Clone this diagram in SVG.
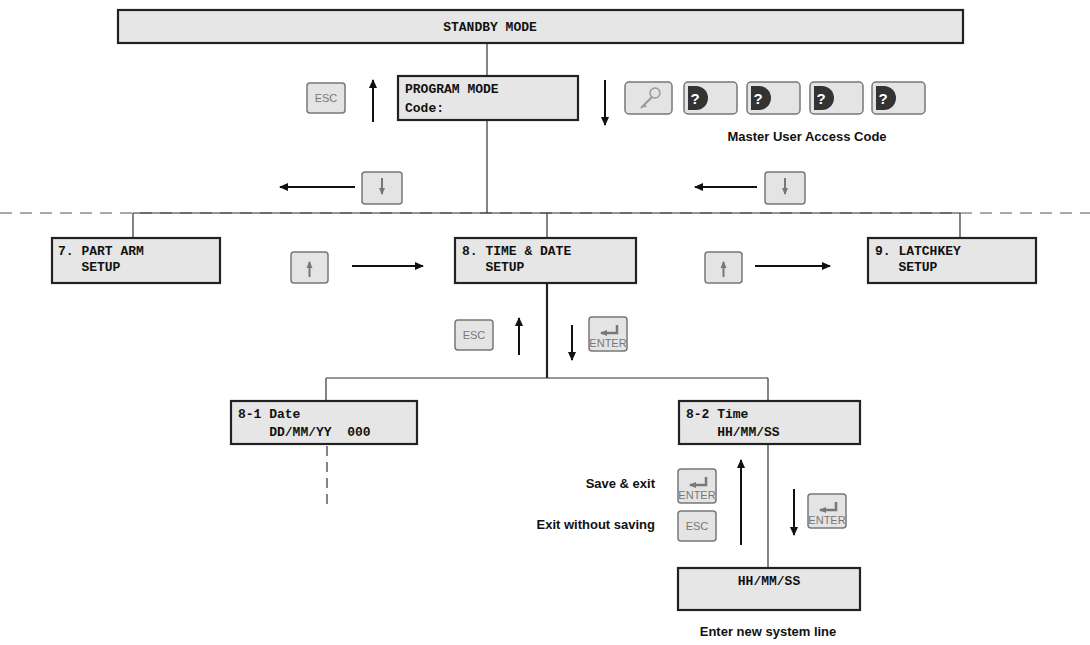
<svg xmlns="http://www.w3.org/2000/svg" width="1090" height="645" viewBox="0 0 1090 645">
<style>
.box{fill:#e6e6e6;stroke:#222;stroke-width:2.2}
.key{fill:#e4e4e4;stroke:#777;stroke-width:1.5}
.mono{font-family:"Liberation Mono",monospace;font-weight:bold;font-size:13px;fill:#111;white-space:pre}
.lbl{font-family:"Liberation Sans",Arial,sans-serif;font-weight:bold;font-size:13px;fill:#111}
.kt{font-family:"Liberation Sans",Arial,sans-serif;font-size:11px;fill:#777}
.ln{stroke:#333;stroke-width:1.2;fill:none}
.ar{stroke:#111;stroke-width:2;fill:none}
.q{font-family:"Liberation Sans",Arial,sans-serif;font-weight:bold;font-size:15px;fill:#fff}
</style>
<defs>
<marker id="ah" markerWidth="10" markerHeight="10" refX="8" refY="5" orient="auto" markerUnits="userSpaceOnUse"><path d="M0,1 L9,5 L0,9 z" fill="#111"/></marker>
<marker id="ahg" markerWidth="8" markerHeight="8" refX="6" refY="4" orient="auto" markerUnits="userSpaceOnUse"><path d="M0,1 L7,4 L0,7 z" fill="#777"/></marker>
<g id="esckey"><rect class="key" x="0" y="0" width="38" height="30" rx="3"/><text class="kt" x="19" y="19" text-anchor="middle">ESC</text></g>
<g id="enterkey"><rect class="key" x="0" y="0" width="38" height="34" rx="3"/><path d="M28,8 V16 H12" stroke="#777" stroke-width="2.5" fill="none" marker-end="url(#ahg)"/><text class="kt" x="19" y="30" text-anchor="middle">ENTER</text></g>
<g id="downkey"><rect class="key" x="0" y="0" width="40" height="32" rx="3"/><path d="M20,6 V22" stroke="#777" stroke-width="2" marker-end="url(#ahg)"/></g>
<g id="upkey"><rect class="key" x="0" y="0" width="37" height="31" rx="3"/><path d="M18.5,25 V10" stroke="#777" stroke-width="2" marker-end="url(#ahg)"/></g>
<g id="qkey"><rect class="key" x="0" y="0" width="53" height="32" rx="4" stroke="#555"/><path d="M4,4 h8 a12,12 0 0 1 0,24 h-8 z" fill="#333"/><text class="q" x="11" y="22" text-anchor="middle">?</text></g>
</defs>
<rect width="1090" height="645" fill="#fff"/>
<g id="connectors">
<line x1="0" y1="213" x2="1090" y2="213" stroke="#555" stroke-width="1.2" stroke-dasharray="12,8"/>
<path class="ln" d="M487,43 V213 M133,213 H960 M133,213 V238 M547,213 V238 M960,213 V238"/>
<path d="M547,283 V378" stroke="#222" stroke-width="2.2"/>
<path class="ln" d="M326,378 H768 M326,378 V401 M768,378 V401 M768,444 V568"/>
<path class="ln" d="M327,446 V505" stroke-dasharray="10,6"/>
<line class="ar" x1="373" y1="122" x2="373" y2="80" marker-end="url(#ah)"/>
<line class="ar" x1="605" y1="80" x2="605" y2="125" marker-end="url(#ah)"/>
<line class="ar" x1="355" y1="187" x2="280" y2="187" marker-end="url(#ah)"/>
<line class="ar" x1="757" y1="187" x2="695" y2="187" marker-end="url(#ah)"/>
<line class="ar" x1="352" y1="266" x2="423" y2="266" marker-end="url(#ah)"/>
<line class="ar" x1="755" y1="266" x2="830" y2="266" marker-end="url(#ah)"/>
<line class="ar" x1="519" y1="355" x2="519" y2="318" marker-end="url(#ah)"/>
<line class="ar" x1="572" y1="325" x2="572" y2="360" marker-end="url(#ah)"/>
<line class="ar" x1="741" y1="545" x2="741" y2="460" marker-end="url(#ah)"/>
<line class="ar" x1="794" y1="489" x2="794" y2="535" marker-end="url(#ah)"/>
</g>
<g id="standby"><rect class="box" x="118" y="10" width="845" height="33"/><text class="mono" x="490" y="31" text-anchor="middle">STANDBY MODE</text></g>
<g id="program"><rect class="box" x="398" y="76" width="180" height="44"/><text class="mono" x="405" y="93">PROGRAM MODE</text><text class="mono" x="405" y="112">Code:</text></g>
<g id="keys-top">
<use href="#esckey" x="307" y="83"/>
<rect class="key" x="625" y="82" width="47" height="32" rx="4"/>
<circle cx="655" cy="93" r="5" fill="none" stroke="#999" stroke-width="1.5"/><path d="M652,97 L641,108 M644,105 l2,2" stroke="#999" stroke-width="2"/>
<use href="#qkey" x="684" y="82"/><use href="#qkey" x="747" y="82"/><use href="#qkey" x="810" y="82"/><use href="#qkey" x="872" y="82"/>
<text class="lbl" x="807" y="141" text-anchor="middle">Master User Access Code</text>
<use href="#downkey" x="362" y="172"/><use href="#downkey" x="765" y="172"/>
<use href="#upkey" x="291" y="252"/><use href="#upkey" x="705" y="252"/>
</g>
<g id="n7"><rect class="box" x="52" y="238" width="168" height="45"/><text class="mono" x="58" y="255">7. PART ARM</text><text class="mono" x="58" y="271" xml:space="preserve">   SETUP</text></g>
<g id="n8"><rect class="box" x="455" y="238" width="181" height="45"/><text class="mono" x="462" y="255">8. TIME &amp; DATE</text><text class="mono" x="462" y="271" xml:space="preserve">   SETUP</text></g>
<g id="n9"><rect class="box" x="868" y="238" width="168" height="45"/><text class="mono" x="875" y="255">9. LATCHKEY</text><text class="mono" x="875" y="271" xml:space="preserve">   SETUP</text></g>
<g id="keys-mid"><use href="#esckey" x="455" y="320"/><use href="#enterkey" x="589" y="317"/></g>
<g id="n81"><rect class="box" x="231" y="401" width="186" height="43"/><text class="mono" x="238" y="418">8-1 Date</text><text class="mono" x="238" y="436" xml:space="preserve">    DD/MM/YY  000</text></g>
<g id="n82"><rect class="box" x="679" y="401" width="181" height="43"/><text class="mono" x="686" y="418">8-2 Time</text><text class="mono" x="686" y="436" xml:space="preserve">    HH/MM/SS</text></g>
<g id="keys-bottom">
<text class="lbl" x="655" y="488" text-anchor="end">Save &amp; exit</text>
<text class="lbl" x="655" y="529" text-anchor="end">Exit without saving</text>
<use href="#enterkey" x="678" y="469"/><use href="#esckey" x="678" y="511"/><use href="#enterkey" x="808" y="494"/>
</g>
<g id="nhh"><rect class="box" x="678" y="568" width="182" height="42"/><text class="mono" x="769" y="585" text-anchor="middle">HH/MM/SS</text></g>
<text class="lbl" x="768" y="636" text-anchor="middle">Enter new system line</text>
</svg>
